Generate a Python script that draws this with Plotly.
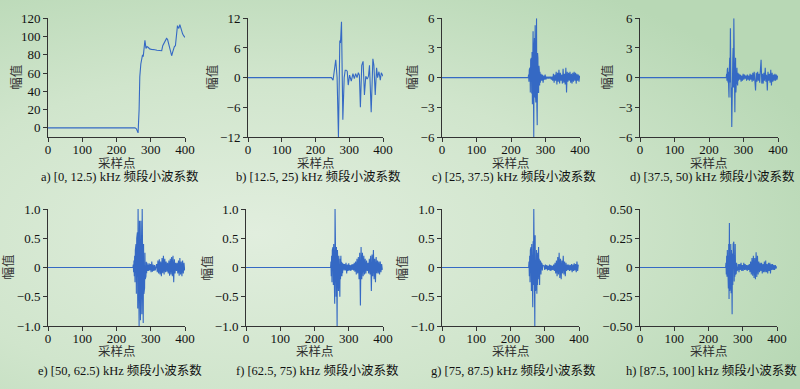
import base64
import plotly.graph_objects as go

# ---------------- data ----------------
# panel a: explicit sample positions / values
a_x = [0, 254, 258, 263, 266, 268, 271, 273, 276, 278, 280, 283, 286, 289, 293, 297, 302, 307, 312, 318,
       323, 327, 332, 335, 339, 343, 346, 349, 351, 355, 358, 361, 364, 367, 369, 372, 374, 376, 378, 380,
       382, 385, 388, 390, 393, 396, 400]
a_y = [0, 0, -1, -5.5, 20, 56, 70, 76, 80, 78, 89, 96, 87, 89, 88, 86.5, 86, 86, 85.5, 85,
       85, 84.5, 84.5, 90, 93, 96, 98, 97, 94, 90, 85, 79, 83, 87, 89, 90, 100, 108, 112, 110,
       109, 113, 108, 105, 103, 101, 99]

# panel b
b_x = [0, 247, 252, 256, 260, 264, 268, 272, 274, 277, 281, 285, 288, 291, 294, 297, 301, 306, 311, 315,
       319, 323, 327, 330, 333, 337, 341, 345, 349, 353, 357, 360, 365, 370, 373, 377, 381, 384, 388, 392,
       395, 400]
b_y = [0, 0, -0.5, 1.5, 3.6, 0, -12, 7.5, 7, 11.3, -8.5, 0, 1.5, 1.5, 1.3, -1.5, 0.5, -0.7, 0.8, -0.2,
       0.8, 0, 1, 0.5, -6, 2.5, 3.3, -3.5, 0.3, -0.3, 0.3, 2.5, -7, 3.8, 2.5, -3.5, 2, 0, 1.2, -0.5,
       1, 0.3]

# panels c-h: burst sampled every sample, tail sampled every 2 samples
c_burst_start = 250
c_burst = [0, 0.3, -0.4, 0.8, -1.2, 1.0, -1.5, 1.8, -0.8, 2.0, -1.6, 2.6, -2.7, 1.5, 4.7, -2.0, -6.0, 3.0,
           4.0, -2.0, 5.3, -1.8, -2.5, 3.2, 6.0, -3.0, -4.8, 2.5, 2.0, -1.5, -1.5, 1.2, 0.8, -0.8, 0.6, -0.5]
c_tail_start = 287
c_tail = [0.4, -0.3, 0.3, -0.5, 0.2, -0.2, 0.3, -0.2, 0.1, -0.1, 0.1, -0.1, 0.1, -0.1, 0.1, -0.2, 0.1, -0.3,
          0.4, -0.5, 0.3, -0.3, 0.6, -0.7, 0.5, -0.4, 0.8, -0.6, 0.5, -0.3, 0.3, -0.6, 0.9, -0.5, 0.4, -0.7,
          1.0, -1.5, 0.6, -0.4, 0.5, -0.3, 0.6, -0.5, 0.4, -0.6, 0.5, -0.4, 0.6, -0.3, 0.5, -0.6, 0.4, -0.3,
          0.3, -0.4, 0.2]

d_burst_start = 250
d_burst = [0, 0.4, -0.3, 0.8, 1.0, -0.5, 0.6, -1.0, -2.0, 0.8, 2.0, -0.5, 5.0, 1.0, -2.0, -1.0, -5.0, 1.5,
           -1.0, 2.0, 3.0, -1.0, 6.0, -2.0, 1.0, -3.5, 0.5, 2.0, -1.5, 0.8, -1.0, 1.0, -0.5, -0.8, 0.5, -0.3]
d_tail_start = 287
d_tail = [0.4, -0.2, 0.3, -0.4, 0.2, -0.3, 0.4, -0.2, 0.3, -0.1, 0.2, -0.3, 0.3, -0.2, 0.2, -0.3, 0.4, -0.2,
          0.3, -0.4, 0.5, -0.3, 0.6, -0.8, -1.3, 0.5, -0.4, 0.6, -0.3, 0.4, -0.5, 0.8, 1.8, -0.6, 0.4, -0.6,
          0.5, -0.3, 1.0, -0.4, 0.3, -1.3, 0.6, -0.3, 0.4, -0.5, 0.8, -0.8, 0.5, -0.4, 0.3, -0.3, 0.4, -0.3,
          0.3, -0.2, 0.2]

e_burst_start = 248
e_burst = [0, 0.05, -0.08, 0.12, -0.15, 0.2, -0.25, 0.3, -0.35, 0.4, -0.45, 0.5, -0.55, 0.6, -0.7, 1.0,
           -0.6, 0.75, -1.0, 0.8, -0.85, 0.7, -0.9, 0.8, -0.6, 0.7, -0.8, 1.0, -0.7, 0.5, -0.95, 0.4, -0.45,
           0.3, -0.35, 0.25, -0.2, 0.15, -0.15, 0.1, -0.1, 0.08, -0.06]
e_tail_start = 291
e_tail = [0.05, -0.06, 0.07, -0.05, 0.06, -0.08, 0.1, -0.07, 0.05, -0.06, 0.04, -0.05, 0.04,
          0.06, -0.08, 0.12, -0.1, 0.14, -0.12, 0.1, -0.15, 0.16, -0.1, 0.2, -0.12, 0.15, -0.08, 0.1, -0.07,
          0.08, -0.1, 0.12, -0.14, 0.15, -0.12, 0.18, -0.15, 0.2, -0.25, 0.14, -0.1, 0.08, -0.06, 0.08, -0.1,
          0.12, -0.14, 0.16, -0.12, 0.1, -0.15, 0.12, -0.1, 0.08, -0.05]

f_burst_start = 247
f_burst = [0, 0.1, -0.15, 0.2, -0.25, 0.3, -0.2, 0.35, -0.3, 0.4, -0.35, 0.3, -0.62, 1.0, -0.4, 0.45,
           -0.5, 0.35, -0.3, -1.0, 0.3, -0.35, 0.25, -0.4, 0.2, -0.3, 0.15, -0.5, 0.15, -0.2, 0.2, -0.15,
           0.1, -0.15, 0.08, -0.1, 0.06, -0.08, 0.05, -0.05]
f_tail_start = 288
f_tail = [0.06, -0.05, 0.08, -0.1, 0.05, -0.06, 0.07, -0.05, 0.04, -0.06, 0.05, -0.04, 0.06, -0.05, 0.08,
          -0.07, 0.1, -0.12, 0.15, -0.1, 0.18, -0.2, 0.25, -0.65, 0.35, -0.2, 0.25, -0.15, 0.2, -0.12, 0.15,
          -0.1, 0.12, -0.06, 0.08, -0.1, 0.15, -0.12, 0.2, -0.4, 0.22, -0.15, 0.3, -0.2, 0.15, -0.25, 0.18,
          -0.1, 0.12, -0.1, 0.1, -0.12, 0.1, -0.08, 0.06, -0.04]

g_burst_start = 253
g_burst = [0, 0.1, -0.15, 0.2, -0.25, 0.3, -0.3, 0.35, -0.4, 0.4, -0.45, 0.35, -0.68, 0.45, -0.3, 1.0,
           -0.5, 0.5, -1.0, 0.55, -0.4, 0.45, -0.35, 0.3, -0.45, 0.25, -0.3, 0.2, -0.25, 0.35, -0.2, 0.15,
           -0.3, 0.12, -0.15, 0.1, -0.12, 0.08, -0.1, 0.06, -0.05, 0.04, -0.04, 0.03]
g_tail_start = 298
g_tail = [0.03, -0.04, 0.05, -0.03, 0.04, -0.05, 0.03, -0.04, 0.05, -0.06, 0.04, -0.05, 0.03, -0.04, 0.05,
          -0.06, 0.08, -0.1, 0.12, -0.15, 0.18, -0.12, 0.25, -0.18, 0.15, -0.2, 0.12, -0.1, 0.2, -0.12, 0.1,
          -0.15, 0.08, -0.06, 0.05, -0.04, 0.05, -0.06, 0.04, -0.05, 0.06, -0.08, 0.05, -0.06, 0.07, -0.05,
          0.06, -0.08, 0.1, -0.06, 0.05]

h_burst_start = 250
h_burst = [0, 0.04, -0.06, 0.1, -0.08, 0.15, -0.12, 0.12, -0.18, 0.2, -0.27, 0.38, -0.2, 0.18, -0.15, 0.2,
           -0.22, 0.15, -0.1, -0.4, 0.12, -0.15, 0.2, -0.1, 0.22, -0.12, 0.1, -0.08, 0.2, -0.06, 0.05, -0.05,
           0.04, -0.03, 0.03, -0.02]
h_tail_start = 287
h_tail = [0.03, -0.04, 0.03, -0.02, 0.04, -0.03, 0.02, -0.03, 0.04, -0.02, 0.03, -0.02, 0.02, -0.03, 0.02,
          -0.02, 0.03, -0.04, 0.05, -0.06, 0.08, -0.07, 0.1, -0.09, 0.08, -0.1, 0.13, -0.08, 0.1, -0.06, 0.05,
          -0.04, 0.04, -0.03, 0.04, -0.05, 0.03, -0.04, 0.05, -0.04, 0.06, -0.04, 0.03, -0.05, 0.04, -0.03,
          0.04, -0.05, 0.03, -0.02, 0.03, -0.02, 0.02, -0.02, 0.02, -0.01, 0.01]

captions = ["a) [0, 12.5) kHz 频段小波系数", "b) [12.5, 25) kHz 频段小波系数",
            "c) [25, 37.5) kHz 频段小波系数", "d) [37.5, 50) kHz 频段小波系数",
            "e) [50, 62.5) kHz 频段小波系数", "f) [62.5, 75) kHz 频段小波系数",
            "g) [75, 87.5) kHz 频段小波系数", "h) [87.5, 100] kHz 频段小波系数"]
x_ticks = [0, 100, 200, 300, 400]
y_ticks = [
    ([0, 20, 40, 60, 80, 100, 120], ["0", "20", "40", "60", "80", "100", "120"], [-10, 120]),
    ([-12, -6, 0, 6, 12], ["−12", "−6", "0", "6", "12"], [-12, 12]),
    ([-6, -3, 0, 3, 6], ["−6", "−3", "0", "3", "6"], [-6, 6]),
    ([-6, -3, 0, 3, 6], ["−6", "−3", "0", "3", "6"], [-6, 6]),
    ([-1, -0.5, 0, 0.5, 1], ["−1.0", "−0.5", "0", "0.5", "1.0"], [-1, 1]),
    ([-1, -0.5, 0, 0.5, 1], ["−1.0", "−0.5", "0", "0.5", "1.0"], [-1, 1]),
    ([-1, -0.5, 0, 0.5, 1], ["−1.0", "−0.5", "0", "0.5", "1.0"], [-1, 1]),
    ([-0.5, -0.25, 0, 0.25, 0.5], ["−0.50", "−0.25", "0", "0.25", "0.50"], [-0.5, 0.5]),
]


def build(b0, burst, t0, tail):
    xs = [0] + list(range(b0, b0 + len(burst))) + list(range(t0, t0 + 2 * len(tail), 2))
    ys = [0] + burst + tail
    return xs, ys


series = [(a_x, a_y), (b_x, b_y),
          build(c_burst_start, c_burst, c_tail_start, c_tail),
          build(d_burst_start, d_burst, d_tail_start, d_tail),
          build(e_burst_start, e_burst, e_tail_start, e_tail),
          build(f_burst_start, f_burst, f_tail_start, f_tail),
          build(g_burst_start, g_burst, g_tail_start, g_tail),
          build(h_burst_start, h_burst, h_tail_start, h_tail)]

# ---------------- layout (pixel geometry) ----------------
W, H = 800, 389
x_px = [(48, 185), (248, 383), (442, 580), (640, 778),
        (48, 185), (246, 383), (442, 579), (640, 777)]
row_px = [(18.3, 137), (209, 326)]
xtitle_px = [163.5, 351.5]
caption_px = [177, 370]
ytitle_x = [17, 213, 413, 608, 8, 207, 402, 603]

LINE = "#3569c4"
AX = "#333333"
FONT = "Liberation Serif, Times New Roman, Noto Sans CJK SC, serif"

fig = go.Figure()
annotations = []
for i, (xs, ys) in enumerate(series):
    n = i + 1
    xa = "x" if n == 1 else f"x{n}"
    ya = "y" if n == 1 else f"y{n}"
    fig.add_trace(go.Scatter(x=xs, y=ys, mode="lines", xaxis=xa, yaxis=ya,
                             line=dict(color=LINE, width=1.1), showlegend=False,
                             hoverinfo="skip"))
    r = i // 4
    x0, x1 = x_px[i]
    y0, y1 = row_px[r]
    tv, tt, rng = y_ticks[i]
    xkey = "xaxis" if n == 1 else f"xaxis{n}"
    ykey = "yaxis" if n == 1 else f"yaxis{n}"
    fig.update_layout(**{
        xkey: dict(domain=[x0 / W, x1 / W], anchor=ya, range=[0, 400], tickvals=x_ticks,
                   showline=True, linecolor=AX, linewidth=1, ticks="outside", ticklen=4,
                   tickcolor=AX, showgrid=False, zeroline=False, automargin=False,
                   ticklabelstandoff=-4,
                   tickfont=dict(family=FONT, size=13, color="#111")),
        ykey: dict(domain=[1 - y1 / H, 1 - y0 / H], anchor=xa, range=rng, tickvals=tv, ticktext=tt,
                   showline=True, linecolor=AX, linewidth=1, ticks="outside", ticklen=4,
                   tickcolor=AX, showgrid=False, zeroline=False, automargin=False,
                   tickfont=dict(family=FONT, size=13, color="#111")),
    })
    cx = (x0 + x1) / 2 / W
    cy = 1 - (y0 + y1) / 2 / H
    annotations.append(dict(text="幅值", x=ytitle_x[i] / W, y=cy, xref="paper", yref="paper",
                            xanchor="center", yanchor="middle", showarrow=False, textangle=-90,
                            font=dict(family=FONT, size=12.5, color="#333")))
    annotations.append(dict(text="采样点", x=cx, y=1 - xtitle_px[r] / H, xref="paper", yref="paper",
                            xanchor="center", yanchor="middle", showarrow=False,
                            font=dict(family=FONT, size=12.5, color="#333")))
    annotations.append(dict(text=captions[i], x=cx + 3 / W, y=1 - caption_px[r] / H, xref="paper",
                            yref="paper", xanchor="center", yanchor="middle", showarrow=False,
                            font=dict(family=FONT, size=12.5, color="#111")))

svg = ('<svg xmlns="http://www.w3.org/2000/svg" width="800" height="389">'
       '<defs><radialGradient id="g" cx="0.32" cy="0.6" r="0.75">'
       '<stop offset="0" stop-color="#e1eede"/><stop offset="0.55" stop-color="#d0e5cc"/>'
       '<stop offset="1" stop-color="#b8d8b5"/></radialGradient></defs>'
       '<rect width="800" height="389" fill="url(#g)"/></svg>')
src = "data:image/svg+xml;base64," + base64.b64encode(svg.encode()).decode()

fig.update_layout(
    width=W, height=H, margin=dict(l=0, r=0, t=0, b=0, autoexpand=False),
    paper_bgcolor="#c8e1c5", plot_bgcolor="rgba(0,0,0,0)",
    annotations=annotations,
    images=[dict(source=src, xref="paper", yref="paper", x=0, y=1, sizex=1, sizey=1,
                 xanchor="left", yanchor="top", sizing="stretch", layer="below")],
)

fig.write_html("out.html", config={"displayModeBar": False},
               post_script="document.body.style.margin='0';document.body.style.overflow='hidden';")
